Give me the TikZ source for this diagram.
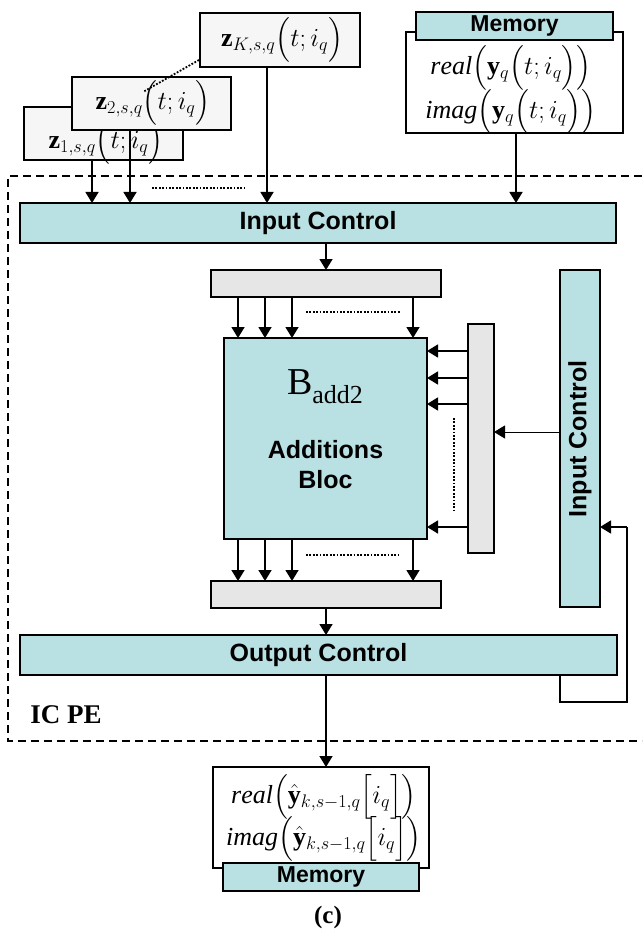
\documentclass[tikz,border=0pt]{standalone}
\usepackage{fix-cm}
\usepackage{amsmath}
\usepackage{fontspec}
\setmainfont{Liberation Serif}
\setsansfont{Liberation Sans}
\usetikzlibrary{arrows.meta,calc}
\definecolor{cy}{HTML}{B9E0E3}
\definecolor{gb}{HTML}{E6E6E6}
\definecolor{zb}{HTML}{F6F6F6}
\newcommand{\lbl}{\sffamily\bfseries\fontsize{25}{30}\selectfont}
\newcommand{\mlbl}{\sffamily\bfseries\fontsize{23}{26}\selectfont}
\newcommand{\mth}{\fontsize{26}{30}\selectfont}
\begin{document}
\begin{tikzpicture}[x=1pt,y=-1pt,
  box/.style={draw, line width=1.6pt, inner sep=0pt, outer sep=0pt},
  cbox/.style={box, fill=cy},
  gbox/.style={box, fill=gb},
  zbox/.style={box, fill=zb},
  wbox/.style={box, fill=white},
  arr/.style={line width=1.6pt, -{Triangle[length=11pt,width=13pt]}},
  thinarr/.style={line width=1pt, -{Triangle[length=11pt,width=13pt]}},
  ln/.style={line width=1.6pt},
  dotl/.style={line width=1.8pt, dash pattern=on 1.8pt off 1.6pt},
  dashl/.style={line width=1.6pt, dash pattern=on 8pt off 5pt},
  txt/.style={inner sep=0pt, outer sep=0pt}]
\useasboundingbox (0,0) rectangle (642,933);

% dashed IC PE frame
\coordinate (fr1) at (642,176);
\coordinate (fr2) at (8,176);
\coordinate (fr3) at (8,741);
\coordinate (fr4) at (642,741);
\draw[dashl] (fr1) -- (fr2) -- (fr3) -- (fr4);

% column x coordinates
\coordinate (xz1) at (92,0);
\coordinate (xz2) at (130,0);
\coordinate (xzk) at (267,0);
\coordinate (xmem) at (516,0);
\coordinate (xc) at (326,0);
\coordinate (xa) at (238,0);
\coordinate (xb) at (265,0);
\coordinate (xd) at (292,0);
\coordinate (xe) at (413,0);
\coordinate (ya) at (0,351);
\coordinate (yb) at (0,378);
\coordinate (yc) at (0,404);
\coordinate (yd) at (0,527);
\coordinate (yic) at (0,432);

% z boxes
\node[zbox, minimum width=159pt, minimum height=53pt] (z1) at (103.5,133.5) {};
\node[txt] (z1t) at (106,142) {\mth$\mathbf{z}_{1,s,q}\Bigl(t;i_{q}\Bigr)$};
\node[zbox, minimum width=159pt, minimum height=53pt] (z2) at (151.5,103.5) {};
\draw[arr] (z2.south -| xz2) -- (xz2 |- 0,203);
\node[txt] (z2t) at (153,103) {\mth$\mathbf{z}_{2,s,q}\Bigl(t;i_{q}\Bigr)$};
\node[zbox, minimum width=160pt, minimum height=54pt] (zk) at (280,40) {};
\node[txt] (zkt) at (282,40) {\mth$\mathbf{z}_{K,s,q}\Bigl(t;i_{q}\Bigr)$};
\coordinate (dotA) at (199,60);
\coordinate (dotB) at (143,92);
\draw[dotl] (dotA) -- (dotB);

% top memory
\node[wbox, minimum width=217pt, minimum height=101pt] (memin) at (514.5,82.5) {};
\node[cbox, minimum width=197pt, minimum height=28pt] (memh) at (514.5,26) {\mlbl Memory};
\node[txt] (mr) at (511,68) {\mth$\mathit{real}\Bigl(\mathbf{y}_{q}\Bigl(t;i_{q}\Bigr)\Bigr)$};
\node[txt] (mi) at (511,112) {\mth$\mathit{imag}\Bigl(\mathbf{y}_{q}\Bigl(t;i_{q}\Bigr)\Bigr)$};

% input control
\node[cbox, minimum width=596pt, minimum height=40pt] (ic) at (318,223) {\lbl Input Control};
\draw[arr] (z1.south -| xz1) -- (ic.north -| xz1);
\draw[arr] (zk.south -| xzk) -- (ic.north -| xzk);
\draw[arr] (memin.south -| xmem) -- (ic.north -| xmem);
\coordinate (d1a) at (152,188);
\coordinate (d1b) at (245,188);
\draw[dotl] (d1a) -- (d1b);

% top grey bar
\node[gbox, minimum width=230pt, minimum height=27pt] (tb) at (326,283.5) {};
\draw[arr] (ic.south -| xc) -- (tb.north -| xc);

% additions bloc
\node[cbox, minimum width=203pt, minimum height=201pt] (add) at (325.5,438.5) {};
\node[txt] (badd) at (325,387) {\fontsize{38}{40}\selectfont B\raisebox{-9pt}{\fontsize{26}{28}\selectfont add2}};
\node[txt, align=center, font=\lbl] (addt) at (325.5,465) {Additions\\Bloc};
\foreach \c in {xa,xb,xd,xe}{
  \draw[arr] (tb.south -| \c) -- (add.north -| \c);
}
\coordinate (d2a) at (306,312);
\coordinate (d2b) at (400,312);
\draw[dotl] (d2a) -- (d2b);

% vertical grey bar
\node[gbox, minimum width=26pt, minimum height=229pt] (vb) at (481,438.5) {};
\foreach \r in {ya,yb,yc,yd}{
  \draw[arr] (vb.west |- \r) -- (add.east |- \r);
}
\coordinate (d3a) at (454,418);
\coordinate (d3b) at (454,511);
\draw[dotl] (d3a) -- (d3b);

% vertical input control
\node[cbox, minimum width=40pt, minimum height=337pt] (icv) at (580,438.5) {};
\node[txt, rotate=90] (icvt) at (580,439) {\lbl Input Control};
\draw[thinarr] (icv.west |- yic) -- (vb.east |- yic);

% bottom grey bar
\node[gbox, minimum width=230pt, minimum height=27pt] (bb) at (326,594.5) {};
\foreach \c in {xa,xb,xd,xe}{
  \draw[arr] (add.south -| \c) -- (bb.north -| \c);
}
\coordinate (d4a) at (306,555);
\coordinate (d4b) at (398,555);
\draw[dotl] (d4a) -- (d4b);

% output control
\node[cbox, minimum width=597pt, minimum height=40pt] (oc) at (318.5,655) {\lbl Output Control};
\draw[arr] (bb.south -| xc) -- (oc.north -| xc);

% feedback
\coordinate (fb1) at (560,702);
\coordinate (fb2) at (627,702);
\coordinate (fb3) at (627,527);
\draw[ln] (oc.south -| fb1) -- (fb1) -- (fb2) -- (fb3);
\draw[arr] (fb3) -- (icv.east |- fb3);

\node[txt] (icpe) at (66,715) {\bfseries\fontsize{27}{30}\selectfont IC PE};

% bottom memory
\node[wbox, minimum width=216pt, minimum height=101pt] (mbo) at (321,817.5) {};
\node[cbox, minimum width=196pt, minimum height=28pt] (mbh) at (321,877) {\mlbl Memory};
\draw[arr] (oc.south -| xc) -- (mbo.north -| xc);
\node[txt] (br) at (324,797) {\mth$\mathit{real}\Bigl(\hat{\mathbf{y}}_{k,s-1,q}\Bigl[i_{q}\Bigr]\Bigr)$};
\node[txt] (bi) at (324,839) {\mth$\mathit{imag}\Bigl(\hat{\mathbf{y}}_{k,s-1,q}\Bigl[i_{q}\Bigr]\Bigr)$};

\node[txt] (cap) at (328,917) {\bfseries\fontsize{25}{28}\selectfont (c)};
\end{tikzpicture}
\end{document}
